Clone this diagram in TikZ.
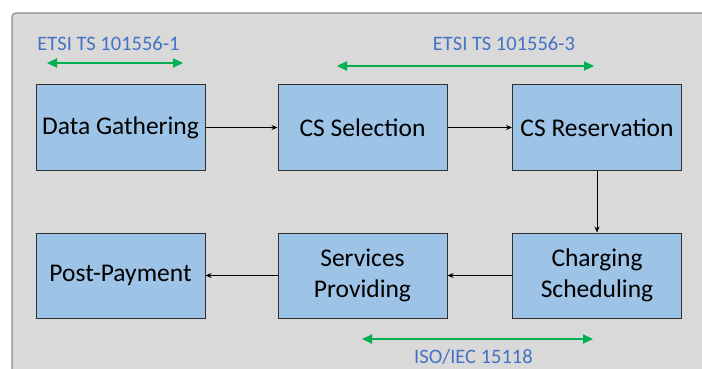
\documentclass[tikz,border=0pt]{standalone}
\usepackage{fontspec}
\setmainfont{Carlito}
\usetikzlibrary{arrows.meta}
\definecolor{panelfill}{HTML}{D9D9D9}
\definecolor{panelline}{HTML}{8C8C8C}
\definecolor{boxfill}{HTML}{9DC3E6}
\definecolor{boxline}{HTML}{2F2F2F}
\definecolor{stdblue}{HTML}{4472C4}
\definecolor{spangreen}{HTML}{00B050}
\begin{document}
\begin{tikzpicture}[x=1pt,y=-1pt,
  stage/.style={draw=boxline,fill=boxfill,line width=1pt,minimum width=169pt,minimum height=85pt,
    inner sep=0pt,align=center,font=\fontsize{25.5}{31}\selectfont,text=black},
  flow/.style={-{Stealth[length=6pt,width=5pt]},line width=0.8pt,black},
  span/.style={{Triangle[length=10pt,width=9pt]}-{Triangle[length=10pt,width=9pt]},line width=2.2pt,spangreen},
  stdlabel/.style={text=stdblue,font=\fontsize{20.5}{24}\selectfont,inner sep=0pt}]
\useasboundingbox (0,0) rectangle (702,369);
\clip (0,0) rectangle (702,369);
% background panel
\draw[panelline,fill=panelfill,line width=1.2pt,rounded corners=4pt] (12,13) rectangle (730,400);
% process stages
\node[stage] (dg)  at (120.5,127.5) {Data Gathering};
\node[stage] (css) at (362.5,127.5) {CS Selection};
\node[stage] (csr) at (597,127.5) {CS Reservation};
\node[stage] (chs) at (597,275.5) {Charging\\Scheduling};
\node[stage] (sp)  at (362.5,275.5) {Services\\Providing};
\node[stage] (pp)  at (120.5,275.5) {Post-Payment};
% flow between stages
\draw[flow] (dg) -- (css);
\draw[flow] (css) -- (csr);
\draw[flow] (csr) -- (chs);
\draw[flow] (chs) -- (sp);
\draw[flow] (sp) -- (pp);
% standard coverage spans
\node[stdlabel] (l1) at (108.5,44) {ETSI TS 101556-1};
\node[stdlabel] (l3) at (504,44) {ETSI TS 101556-3};
\node[stdlabel] (l2) at (473.5,357) {ISO/IEC 15118};
\coordinate (a1) at (47,63);
\coordinate (b1) at (183,63);
\coordinate (a3) at (337,66);
\coordinate (b3) at (594,66);
\coordinate (a2) at (362,339);
\coordinate (b2) at (593,339);
\draw[span] (a1) -- (b1);
\draw[span] (a3) -- (b3);
\draw[span] (a2) -- (b2);
\end{tikzpicture}
\end{document}
